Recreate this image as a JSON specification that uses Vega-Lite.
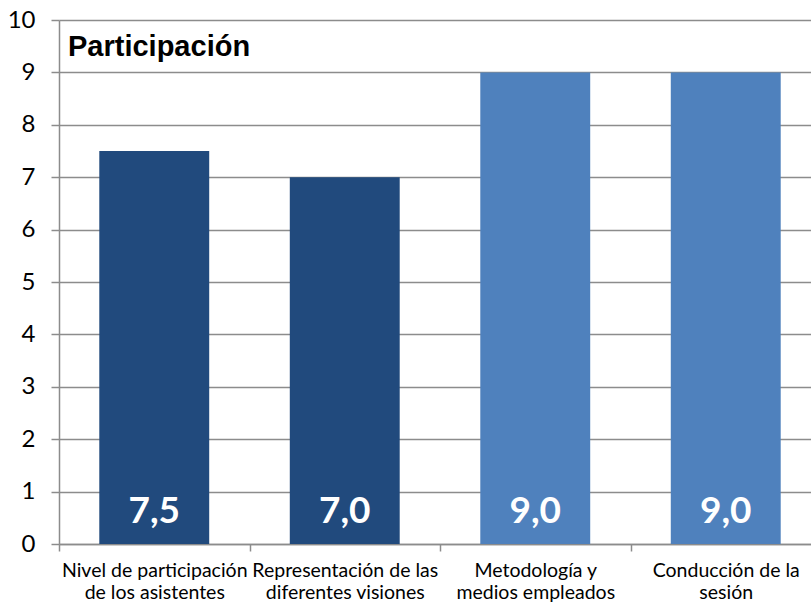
{
  "$schema": "https://vega.github.io/schema/vega-lite/v6.json",
  "width": 762,
  "height": 524,
  "autosize": {"type": "none"},
  "padding": {"left": 59, "top": 20, "right": 0, "bottom": 60},
  "background": "white",
  "config": {
    "view": {"stroke": null},
    "locale": {"number": {"decimal": ",", "thousands": ".", "grouping": [3], "currency": ["", " €"]}}
  },
  "datasets": {
    "puntuaciones": [
      {"aspecto": "Nivel de participación|de los asistentes", "valor": 7.5, "grupo": "A"},
      {"aspecto": "Representación de las|diferentes visiones", "valor": 7.0, "grupo": "A"},
      {"aspecto": "Metodología y|medios empleados", "valor": 9.0, "grupo": "B"},
      {"aspecto": "Conducción de la|sesión", "valor": 9.0, "grupo": "B"}
    ],
    "titulo": [
      {"texto": "Participación", "aspecto": "Nivel de participación|de los asistentes", "nivel": 9.31}
    ]
  },
  "layer": [
    {
      "data": {"name": "puntuaciones"},
      "mark": {"type": "bar", "width": {"band": 0.577}},
      "encoding": {
        "x": {
          "field": "aspecto",
          "type": "nominal",
          "sort": ["Nivel de participación|de los asistentes", "Representación de las|diferentes visiones", "Metodología y|medios empleados", "Conducción de la|sesión"],
          "scale": {"paddingInner": 0, "paddingOuter": 0},
          "axis": {
            "title": null,
            "labelAngle": 0,
            "labelExpr": "split(datum.label, '|')",
            "labelFont": "Lato",
            "labelFontSize": 19.5,
            "labelColor": "black",
            "labelLineHeight": 22,
            "labelPadding": 10,
            "labelBaseline": "top",
            "labelLimit": 250,
            "tickBand": "extent",
            "tickSize": 7,
            "tickColor": "#8c8c8c",
            "tickWidth": 1.5,
            "domainColor": "#8c8c8c",
            "domainWidth": 1.5,
            "grid": false
          }
        },
        "y": {
          "field": "valor",
          "type": "quantitative",
          "scale": {"domain": [0, 10], "nice": false},
          "axis": {
            "title": null,
            "values": [0, 1, 2, 3, 4, 5, 6, 7, 8, 9, 10],
            "labelFont": "Lato",
            "labelFontSize": 24,
            "labelColor": "black",
            "labelPadding": 16,
            "tickSize": 8,
            "tickColor": "#8c8c8c",
            "tickWidth": 1.5,
            "domainColor": "#8c8c8c",
            "domainWidth": 1.5,
            "grid": true,
            "gridColor": "#8c8c8c",
            "gridWidth": 1.5
          }
        },
        "color": {
          "field": "grupo",
          "type": "nominal",
          "scale": {"domain": ["A", "B"], "range": ["#214a7d", "#4f81bd"]},
          "legend": null
        }
      }
    },
    {
      "data": {"name": "puntuaciones"},
      "mark": {
        "type": "text",
        "color": "white",
        "font": "Lato",
        "fontSize": 37,
        "fontWeight": "bold",
        "baseline": "alphabetic",
        "dy": -21
      },
      "encoding": {
        "x": {
          "field": "aspecto",
          "type": "nominal",
          "sort": ["Nivel de participación|de los asistentes", "Representación de las|diferentes visiones", "Metodología y|medios empleados", "Conducción de la|sesión"]
        },
        "y": {"datum": 0, "type": "quantitative"},
        "text": {"field": "valor", "type": "quantitative", "format": ".1f"}
      }
    },
    {
      "data": {"name": "titulo"},
      "mark": {
        "type": "text",
        "color": "black",
        "font": "Liberation Sans",
        "fontSize": 29,
        "fontWeight": "bold",
        "align": "left",
        "baseline": "alphabetic",
        "dx": 9
      },
      "encoding": {
        "x": {
          "field": "aspecto",
          "type": "nominal",
          "bandPosition": 0,
          "sort": ["Nivel de participación|de los asistentes", "Representación de las|diferentes visiones", "Metodología y|medios empleados", "Conducción de la|sesión"]
        },
        "y": {"field": "nivel", "type": "quantitative"},
        "text": {"field": "texto", "type": "nominal"}
      }
    }
  ]
}
